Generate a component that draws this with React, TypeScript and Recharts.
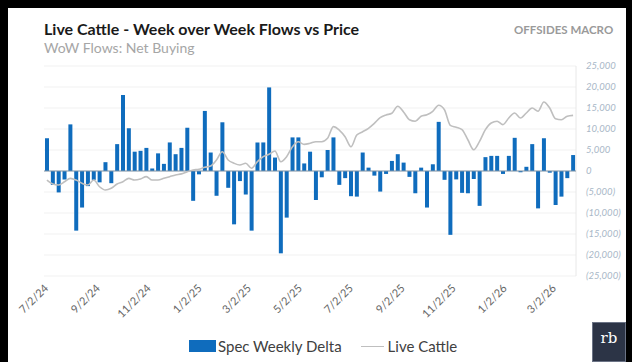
import React from 'react'
import {
  ComposedChart,
  Bar,
  Line,
  XAxis,
  YAxis,
  CartesianGrid,
  ReferenceLine,
  Legend,
} from 'recharts'

// weekly COT report dates start here (Tuesdays)
const FIRST_WEEK = '2024-07-02'

// spec net buying, week over week (contracts)
const FLOWS = [
  7800, -3300, -5100, -2000, 11100, -14200, -8700, -3600, -2100, -2700,
  2100, -2900, 6400, 18100, 10200, 4600, 4800, 5500, 600, 4200,
  1700, 6800, 4000, 5500, 10300, -7100, -800, 14300, 4400, -5900,
  11600, -4000, -12700, -2400, -5600, -14200, 6800, 6800, 19900, 3200,
  -19600, -11100, 8000, 8000, 1800, 4600, -6900, -1500, 5000, 8000,
  -3300, -1700, -6000, -6100, 4400, 800, -1100, -4900, -700, 2400,
  4000, 2000, -1400, -5300, 800, -8700, 1600, 11700, -2100, -15200,
  -2000, -5200, -5300, -1900, -8300, 3300, 3600, 3600, -700, 3600,
  7900, -300, 1000, 6400, -8900, 7800, -400, -8100, -6100, -1700,
  3800,
]

// live cattle price (hidden axis)
const PRICE = [
  188.1, 185.1, 184.3, 186.8, 189.4, 188.1, 185.6, 184.3, 188.1, 183.0,
  180.5, 181.8, 185.1, 186.8, 189.4, 188.1, 188.9, 190.7, 188.1, 188.1,
  189.4, 190.7, 192.0, 192.8, 194.5, 195.8, 196.3, 197.8, 198.8, 203.4,
  209.7, 203.4, 200.9, 199.6, 200.9, 197.1, 202.1, 205.9, 207.7, 210.2,
  202.1, 205.9, 213.5, 217.3, 215.3, 216.1, 217.3, 217.3, 219.9, 228.8,
  226.2, 221.1, 213.5, 222.4, 224.9, 227.5, 231.3, 235.6, 237.7, 239.0,
  244.3, 240.0, 234.1, 232.9, 236.7, 237.9, 240.5, 245.1, 241.7, 229.8,
  228.3, 226.5, 218.8, 211.2, 217.6, 226.5, 231.6, 232.9, 230.3, 235.4,
  239.2, 235.4, 239.2, 243.0, 240.5, 247.6, 243.0, 234.8, 234.1, 236.7,
  237.4,
]

const X_TICK_LABELS = [
  '7/2/24', '9/2/24', '11/2/24', '1/2/25', '3/2/25', '5/2/25',
  '7/2/25', '9/2/25', '11/2/25', '1/2/26', '3/2/26',
]

const Y_TICKS = [25000, 20000, 15000, 10000, 5000, 0, -5000, -10000, -15000, -20000, -25000]

const BLUE = '#0f6cbd'
const GRAY_LINE = '#bfbfbf'
const DAY = 86400000

const parseMDY = (s: string) => {
  const [m, d, y] = s.split('/').map(Number)
  return Date.UTC(2000 + y, m - 1, d)
}

const t0 = Date.parse(FIRST_WEEK)
const data = FLOWS.map((flow, i) => ({ t: t0 + i * 7 * DAY, flow, price: PRICE[i] }))
const xTicks = X_TICK_LABELS.map(parseMDY)
const xMin = t0 - 3.5 * DAY
const xMax = data[data.length - 1].t + 3.5 * DAY

const fmtY = (v: number) =>
  v < 0 ? `(${Math.abs(v).toLocaleString('en-US')})` : v.toLocaleString('en-US')

const DateTick = (props: any) => {
  const { x, y, payload } = props
  const idx = xTicks.indexOf(payload.value)
  const ax = x + 2
  const ay = y + 13
  return (
    <text
      x={ax}
      y={ay}
      textAnchor="end"
      fontSize={11}
      fill="#666666"
      fontFamily="Lato"
      transform={`rotate(-45, ${ax}, ${ay})`}
    >
      {X_TICK_LABELS[idx]}
    </text>
  )
}

const renderLegend = () => (
  <div
    style={{
      display: 'flex',
      alignItems: 'center',
      paddingLeft: 189,
      height: 24,
      fontFamily: 'Lato',
      fontSize: 15,
      color: '#404040',
    }}
  >
    <span style={{ display: 'inline-block', width: 27, height: 12, background: BLUE }} />
    <span style={{ marginLeft: 2 }}>Spec Weekly Delta</span>
    <span
      style={{ display: 'inline-block', width: 23, borderTop: `1.5px solid ${GRAY_LINE}`, marginLeft: 19 }}
    />
    <span style={{ marginLeft: 4 }}>Live Cattle</span>
  </div>
)

export default function App() {
  return (
    <div
      style={{
        position: 'fixed',
        left: 0,
        top: 0,
        width: 632,
        height: 362,
        background: '#000',
        overflow: 'hidden',
      }}
    >
      <div
        style={{
          position: 'absolute',
          left: 8,
          top: 8,
          width: 618,
          height: 354,
          background: '#fff',
        }}
      />

      {/* Titles */}
      <div
        style={{
          position: 'absolute',
          left: 44,
          top: 19,
          fontFamily: 'Lato',
          fontWeight: 700,
          fontSize: 16,
          color: '#1a1a1a',
          whiteSpace: 'nowrap',
        }}
      >
        Live Cattle - Week over Week Flows vs Price
      </div>
      <div
        style={{
          position: 'absolute',
          left: 44,
          top: 39,
          fontFamily: 'Lato',
          fontSize: 14,
          color: '#a6a6a6',
          whiteSpace: 'nowrap',
        }}
      >
        WoW Flows: Net Buying
      </div>
      <div
        style={{
          position: 'absolute',
          left: 514,
          top: 23,
          fontFamily: 'Lato',
          fontWeight: 700,
          fontSize: 11.5,
          color: '#9a9a9a',
          whiteSpace: 'nowrap',
        }}
      >
        OFFSIDES MACRO
      </div>

      <div style={{ position: 'absolute', left: 0, top: 0 }}>
        <ComposedChart
          width={632}
          height={362}
          data={data}
          margin={{ top: 66, right: 6, bottom: 4, left: 44 }}
        >
          <CartesianGrid yAxisId="flow" stroke="#f1f1f1" vertical={false} />
          <XAxis
            dataKey="t"
            type="number"
            scale="linear"
            domain={[xMin, xMax]}
            ticks={xTicks}
            tick={<DateTick />}
            tickSize={0}
            tickMargin={0}
            axisLine={false}
            tickLine={false}
            height={58}
            interval={0}
          />
          <YAxis
            yAxisId="flow"
            orientation="right"
            domain={[-25000, 25000]}
            ticks={Y_TICKS}
            tickFormatter={fmtY}
            axisLine={false}
            tickLine={false}
            tickMargin={4}
            width={50}
            interval={0}
            tick={{ fontSize: 9.5, fill: '#a9b7c7', fontStyle: 'italic', fontFamily: 'Lato' }}
          />
          <YAxis
            yAxisId="price"
            orientation="left"
            domain={[115, 275]}
            width={0}
            tick={false}
            tickLine={false}
            axisLine={{ stroke: '#a7ccd8', strokeWidth: 1.5 }}
          />
          <ReferenceLine yAxisId="flow" x={xMax} stroke="#e8e8e8" />
          <Bar
            yAxisId="flow"
            dataKey="flow"
            name="Spec Weekly Delta"
            fill={BLUE}
            barSize={4}
            isAnimationActive={false}
          />
          <ReferenceLine yAxisId="flow" y={0} stroke="#7f93a8" strokeWidth={1.2} />
          <Line
            yAxisId="price"
            dataKey="price"
            name="Live Cattle"
            type="monotone"
            stroke={GRAY_LINE}
            strokeWidth={1.6}
            dot={false}
            isAnimationActive={false}
          />
          <Legend
            verticalAlign="bottom"
            content={renderLegend}
            wrapperStyle={{ left: 0, width: 632, height: 24 }}
          />
        </ComposedChart>
      </div>

      {/* rb logo */}
      <div
        style={{
          position: 'absolute',
          left: 592,
          top: 322,
          width: 34,
          height: 40,
          background: '#2c3446',
          border: '1px solid #6b7385',
          boxSizing: 'border-box',
          color: '#fff',
          fontFamily: 'DejaVu Serif',
          fontSize: 15,
          textAlign: 'center',
          lineHeight: '30px',
        }}
      >
        rb
      </div>
    </div>
  )
}
